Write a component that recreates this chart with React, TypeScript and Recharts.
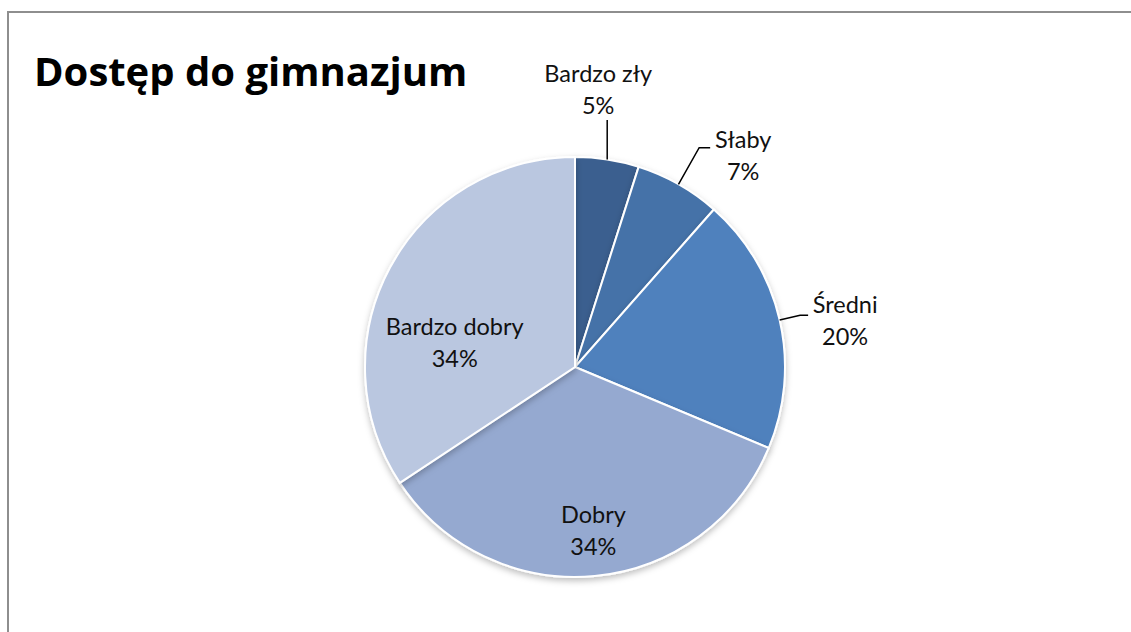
import React from "react";
import { PieChart, Pie, Cell } from "recharts";

// categories and shares (%)
const categories = ["Bardzo zły", "Słaby", "Średni", "Dobry", "Bardzo dobry"];
const shares = [4.9, 6.6, 19.8, 34.4, 34.3];
const colors = ["#3B5F8F", "#4572A8", "#4F81BD", "#95A9D0", "#BAC7E0"];

const data = categories.map((name, i) => ({ name, value: shares[i] }));

// label placement: outside ones get a leader line (elbow radius, tail length, text offset)
const labelLayout = [
  { outside: true, elbow: 1.19, tail: 0, dx: -9, dy: -47 },
  { outside: true, elbow: 1.2, tail: 11, dx: 33, dy: -9 },
  { outside: true, elbow: 1.1, tail: 8, dx: 37, dy: -11 },
  { outside: false, r: 0.78, dx: 3, dy: -16 },
  { outside: false, r: 0.58, dx: -13, dy: 17 },
];

const RAD = Math.PI / 180;
const FONT = "Lato, 'Open Sans', sans-serif";
const LABEL_SIZE = 23.5;

const renderLabel = (props: any) => {
  const { cx, cy, midAngle, outerRadius, percent, index, name } = props;
  const cfg: any = labelLayout[index];
  const cos = Math.cos(-midAngle * RAD);
  const sin = Math.sin(-midAngle * RAD);
  const pct = `${Math.round(percent * 100)}%`;
  let lx: number;
  let ly: number;
  let line = null;
  if (!cfg.outside) {
    lx = cx + outerRadius * cfg.r * cos + cfg.dx;
    ly = cy + outerRadius * cfg.r * sin + cfg.dy;
  } else {
    const sx = cx + outerRadius * cos;
    const sy = cy + outerRadius * sin;
    const ey = cy + outerRadius * cfg.elbow * sin;
    const ex = cfg.tail === 0 ? sx : cx + outerRadius * cfg.elbow * cos;
    const tx = ex + cfg.tail;
    lx = tx + cfg.dx;
    ly = ey + cfg.dy;
    line = <polyline points={`${sx},${sy} ${ex},${ey} ${tx},${ey}`} fill="none" stroke="#000" strokeWidth={1.5} />;
  }
  return (
    <g key={`l${index}`}>
      {line}
      <text x={lx} y={ly} textAnchor="middle" dominantBaseline="central" fontSize={LABEL_SIZE} fontFamily={FONT} fill="#111">
        {name}
      </text>
      <text x={lx} y={ly + 32} textAnchor="middle" dominantBaseline="central" fontSize={LABEL_SIZE} fontFamily={FONT} fill="#111">
        {pct}
      </text>
    </g>
  );
};

const App: React.FC = () => {
  return (
    <div
      style={{
        position: "absolute",
        left: 7,
        top: 11,
        width: 1124,
        height: 621,
        boxSizing: "border-box",
        borderTop: "2px solid #8e8e8e",
        borderLeft: "2px solid #8e8e8e",
        background: "#fff",
        overflow: "hidden",
      }}
    >
      <PieChart width={1122} height={619}>
        <defs>
          <filter id="pieShadow" x="-10%" y="-10%" width="120%" height="125%">
            <feDropShadow dx="0" dy="3" stdDeviation="3" floodColor="#000" floodOpacity="0.25" />
          </filter>
        </defs>
        <text x={25} y={57} fontSize={40} fontWeight="bold" fontFamily="'Open Sans', sans-serif" fill="#000" dominantBaseline="central">
          Dostęp do gimnazjum
        </text>
        <Pie
          data={data}
          dataKey="value"
          nameKey="name"
          cx={561}
          cy={349}
          outerRadius={210}
          startAngle={90}
          endAngle={-270}
          stroke="#fff"
          strokeWidth={2}
          label={renderLabel}
          labelLine={false}
          isAnimationActive={false}
          style={{ filter: "url(#pieShadow)" }}
        >
          {data.map((d, i) => (
            <Cell key={d.name} fill={colors[i]} />
          ))}
        </Pie>
      </PieChart>
    </div>
  );
};

export default App;
